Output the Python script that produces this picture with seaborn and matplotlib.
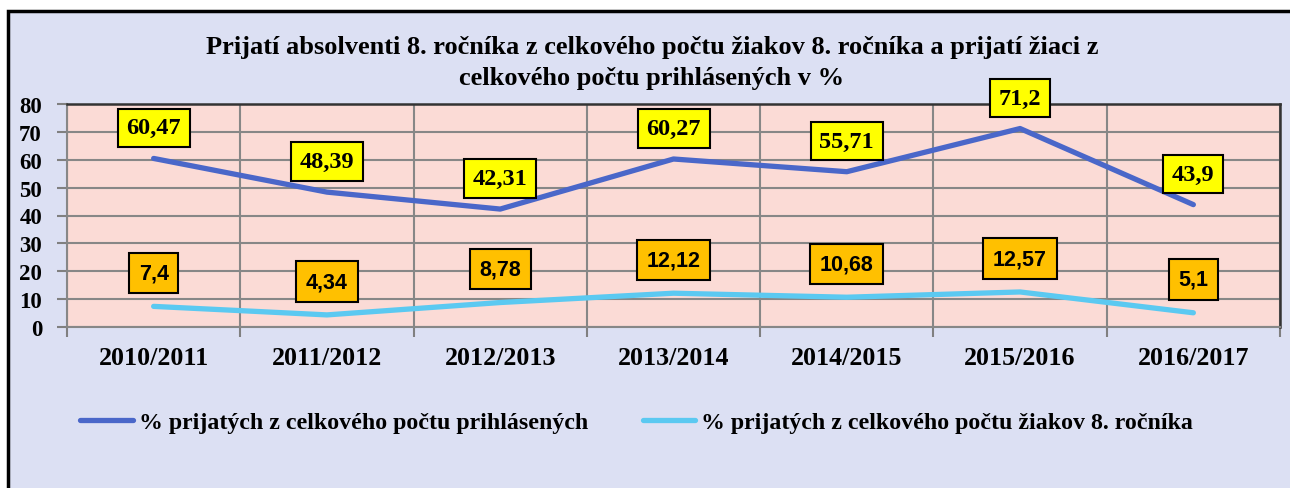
import matplotlib
matplotlib.use('Agg')
import matplotlib.pyplot as plt
import seaborn as sns
from matplotlib.patches import Rectangle
from matplotlib.lines import Line2D

# data
years = ['2010/2011', '2011/2012', '2012/2013', '2013/2014', '2014/2015', '2015/2016', '2016/2017']
prihlasenych = [60.47, 48.39, 42.31, 60.27, 55.71, 71.2, 43.9]
ziakov = [7.4, 4.34, 8.78, 12.12, 10.68, 12.57, 5.1]
name_prihl = '% prijatých z celkového počtu prihlásených'
name_ziak = '% prijatých z celkového počtu žiakov 8. ročníka'
title = 'Prijatí absolventi 8. ročníka z celkového počtu žiakov 8. ročníka a prijatí žiaci z\ncelkového počtu prihlásených v %'

sns.set_style('white')
serif = 'Liberation Serif'
sans = 'Liberation Sans'
plt.rcParams['font.family'] = [serif, 'DejaVu Serif']
plt.rcParams['text.color'] = 'black'
plt.rcParams['xtick.color'] = 'black'
plt.rcParams['ytick.color'] = 'black'

W, H = 1290, 489
fig = plt.figure(figsize=(W / 100, H / 100), dpi=100, facecolor='white')
lav = '#DCE0F3'
fig.patches.append(Rectangle((8 / W, -0.2), 1.5, 1.2 - 12 / H, transform=fig.transFigure,
                             facecolor=lav, edgecolor='black', lw=2.5, zorder=-10))

ax = fig.add_axes([67 / W, 1 - 328 / H, (1280 - 67) / W, (328 - 105) / H])
ax.set_facecolor('#FBDBD6')

x = list(range(len(years)))
blue = '#4A67C9'
light = '#5BC9F1'
sns.lineplot(x=x, y=prihlasenych, ax=ax, color=blue, lw=3.8, sort=False, solid_capstyle='round', zorder=3)
sns.lineplot(x=x, y=ziakov, ax=ax, color=light, lw=3.8, sort=False, solid_capstyle='round', zorder=3)

ax.set_xlim(-0.5, len(years) - 0.5)
ax.set_ylim(0, 80)
ax.set_yticks(range(0, 81, 10))
ax.set_xticks(x)
ax.set_xticklabels(years, fontsize=18.7, fontweight='bold', family=serif)
ax.set_xticks([i - 0.5 for i in range(len(years) + 1)], minor=True)
for lbl in ax.get_yticklabels():
    lbl.set_fontsize(16.5)
    lbl.set_fontweight('bold')
ax.tick_params(axis='x', which='major', length=0, pad=14)
ax.tick_params(axis='x', which='minor', length=7, width=1.5, color='#808080', bottom=True)
ax.tick_params(axis='y', length=7, width=1.5, color='#808080', left=True, pad=11)

ax.grid(axis='y', color='#878787', lw=1.5)
ax.grid(axis='x', which='minor', color='#878787', lw=1.5)
ax.set_axisbelow(True)
for s in ['left', 'bottom']:
    ax.spines[s].set_color('#878787')
    ax.spines[s].set_linewidth(1.5)
for s in ['top', 'right']:
    ax.spines[s].set_color('#333333')
    ax.spines[s].set_linewidth(1.8)

for i, v in enumerate(prihlasenych):
    ax.annotate(str(v).replace('.', ','), (i, v), xytext=(0, 22), textcoords='offset points',
                ha='center', va='center', fontsize=17.5, fontweight='bold', family=serif,
                bbox=dict(boxstyle='square,pad=0.36', fc='#FFFF00', ec='black', lw=1.5), zorder=5)
for i, v in enumerate(ziakov):
    ax.annotate(str(v).replace('.', ','), (i, v), xytext=(0, 24), textcoords='offset points',
                ha='center', va='center', fontsize=15.5, fontweight='bold', family=sans,
                bbox=dict(boxstyle='square,pad=0.45', fc='#FFC000', ec='black', lw=1.5), zorder=5)

fig.text(652 / W, 1 - 63 / H, title, ha='center', va='center', fontsize=19, fontweight='bold',
         family=serif, linespacing=1.4)

handles = [Line2D([], [], color=blue, lw=3.8, solid_capstyle='round'),
           Line2D([], [], color=light, lw=3.8, solid_capstyle='round')]
fig.legend(handles, [name_prihl, name_ziak], loc='center left', bbox_to_anchor=(80 / W, 1 - 423 / H),
           ncol=2, frameon=False, borderpad=0, borderaxespad=0, handlelength=2.2, handletextpad=0.25,
           columnspacing=2.3, prop={'family': serif, 'weight': 'bold', 'size': 17.2})

fig.savefig('out.png', dpi=100, facecolor='white')
